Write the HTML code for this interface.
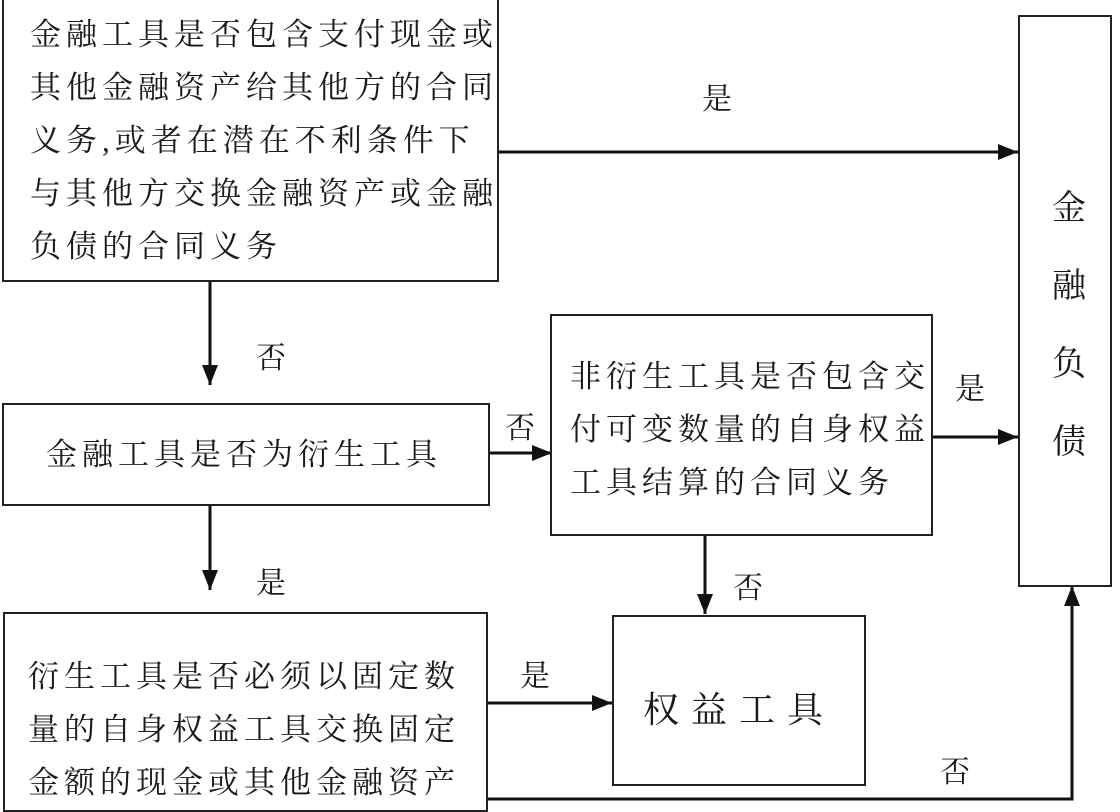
<!DOCTYPE html>
<html><head><meta charset="utf-8"><style>
body{margin:0;width:1120px;height:802px;background:#fff;position:relative;overflow:hidden;font-family:"Liberation Serif","Noto Serif CJK SC",serif;color:#1a1a1a}
.b{position:absolute;border:2.5px solid #222;box-sizing:border-box;background:#fff}
.t{position:absolute;font-size:31px;letter-spacing:5px;line-height:53px;white-space:nowrap}
.l{position:absolute;font-size:30px}
svg{position:absolute;left:0;top:0}
</style></head><body>
<svg width="1120" height="802">
<defs><marker id="a" markerWidth="10" markerHeight="10" refX="9" refY="5" orient="auto" markerUnits="userSpaceOnUse"><path d="M0,0 L10,5 L0,10 Z" fill="#111"/></marker>
<marker id="A" viewBox="0 0 20 16" markerWidth="20" markerHeight="16" refX="20" refY="8" orient="auto" markerUnits="userSpaceOnUse"><path d="M0,0 L20,8 L0,16 Z" fill="#111"/></marker></defs>
<g stroke="#111" stroke-width="3" fill="none">
<line x1="497" y1="152" x2="1018" y2="152" marker-end="url(#A)"/>
<line x1="210" y1="282" x2="210" y2="385" marker-end="url(#A)"/>
<line x1="488" y1="453" x2="552" y2="453" marker-end="url(#A)"/>
<line x1="932" y1="437" x2="1018" y2="437" marker-end="url(#A)"/>
<line x1="705" y1="535" x2="705" y2="614" marker-end="url(#A)"/>
<line x1="210" y1="505" x2="210" y2="590" marker-end="url(#A)"/>
<line x1="487" y1="703" x2="612" y2="703" marker-end="url(#A)"/>
<polyline points="487,799 1072,799 1072,586" marker-end="url(#A)"/>
</g></svg>
<div class="b" style="left:2px;top:-3px;width:497px;height:285px"></div>
<div class="t" style="left:30px;top:8px">金融工具是否包含支付现金或<br>其他金融资产给其他方的合同<br>义务,或者在潜在不利条件下<br>与其他方交换金融资产或金融<br>负债的合同义务</div>
<div class="b" style="left:1018px;top:15px;width:94px;height:572px"></div>
<div class="t" style="left:1052px;top:170px;line-height:78px;font-size:34px">金<br>融<br>负<br>债</div>
<div class="b" style="left:2px;top:403px;width:488px;height:103px"></div>
<div class="t" style="left:46px;top:428px">金融工具是否为衍生工具</div>
<div class="b" style="left:550px;top:314px;width:383px;height:222px"></div>
<div class="t" style="left:570px;top:350px">非衍生工具是否包含交<br>付可变数量的自身权益<br>工具结算的合同义务</div>
<div class="b" style="left:3px;top:612px;width:485px;height:200px"></div>
<div class="t" style="left:28px;top:650px">衍生工具是否必须以固定数<br>量的自身权益工具交换固定<br>金额的现金或其他金融资产</div>
<div class="b" style="left:612px;top:615px;width:254px;height:171px"></div>
<div class="t" style="left:643px;top:684px;font-size:36px;letter-spacing:12px">权益工具</div>
<div class="l" style="left:702px;top:74px">是</div>
<div class="l" style="left:256px;top:333px">否</div>
<div class="l" style="left:505px;top:403px">否</div>
<div class="l" style="left:955px;top:364px">是</div>
<div class="l" style="left:733px;top:563px">否</div>
<div class="l" style="left:256px;top:558px">是</div>
<div class="l" style="left:520px;top:651px">是</div>
<div class="l" style="left:940px;top:747px">否</div>
</body></html>
